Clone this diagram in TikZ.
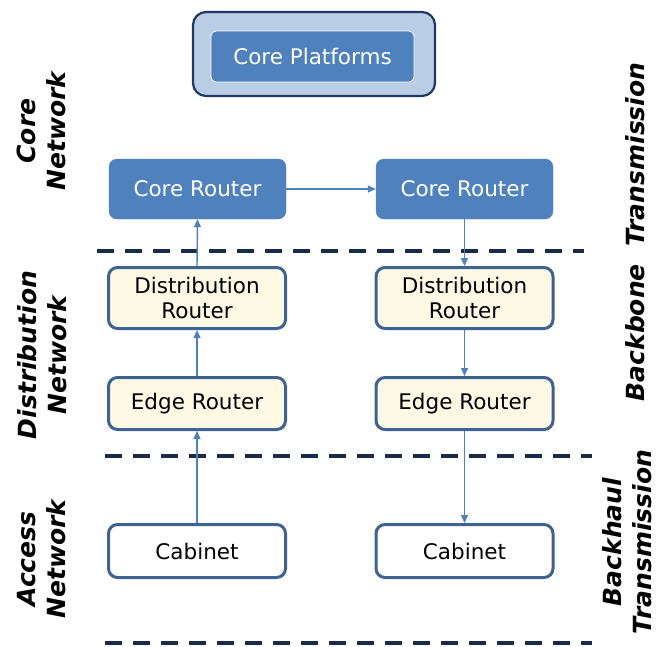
\documentclass[tikz,border=0pt]{standalone}
\usepackage{fontspec}
\setmainfont{DejaVu Sans}
\usetikzlibrary{arrows.meta}
\definecolor{corefill}{HTML}{4F81BD}
\definecolor{platfill}{HTML}{B9CDE5}
\definecolor{navy}{HTML}{1F3864}
\definecolor{boxline}{HTML}{3F6391}
\definecolor{cream}{HTML}{FEF9E4}
\definecolor{dashcol}{HTML}{1A2B47}
\tikzset{
  txt/.style={font=\fontsize{21.5}{25.8}\selectfont, align=center, inner sep=0pt},
  corebox/.style={txt, fill=corefill, draw=corefill, text=white, rounded corners=8pt,
    minimum width=177pt, minimum height=60pt},
  routerbox/.style={txt, fill=cream, draw=boxline, line width=3pt, rounded corners=9pt,
    minimum width=177pt},
  cabbox/.style={routerbox, fill=white},
  link/.style={draw=corefill, line width=1.4pt, -{Triangle[length=8pt,width=7pt]}},
  layer/.style={dashcol, line width=4pt, dash pattern=on 17pt off 11pt},
  sidelabel/.style={font=\fontsize{25}{30}\selectfont\bfseries\itshape, align=center,
    rotate=90, inner sep=0pt}
}
\begin{document}
\begin{tikzpicture}[x=1pt, y=-1pt]
\useasboundingbox (0,0) rectangle (659,646);

% core platforms
\node[draw=navy, line width=2.2pt, fill=platfill, rounded corners=13pt,
  minimum width=242pt, minimum height=84pt] (plat) at (314,54) {};
\node[txt, fill=corefill, draw=white, line width=0.8pt, rounded corners=5pt, text=white,
  minimum width=203pt, minimum height=51pt] (platin) at (312.5,56.5) {Core Platforms};

% routers
\node[corebox] (cr1) at (197.5,189) {Core Router};
\node[corebox] (cr2) at (464.5,189) {Core Router};
\node[routerbox, minimum height=61pt] (dr1) at (197,298) {Distribution\\Router};
\node[routerbox, minimum height=61pt] (dr2) at (464.5,298) {Distribution\\Router};
\node[routerbox, minimum height=52pt] (er1) at (197,403.5) {Edge Router};
\node[routerbox, minimum height=52pt] (er2) at (464.5,403.5) {Edge Router};
\node[cabbox, minimum height=53pt] (cab1) at (197,551) {Cabinet};
\node[cabbox, minimum height=53pt] (cab2) at (464.5,551) {Cabinet};

% layer boundaries
\coordinate (l1a) at (97,251);  \coordinate (l1b) at (584,251);
\coordinate (l2a) at (105,456); \coordinate (l2b) at (592,456);
\coordinate (l3a) at (105,643); \coordinate (l3b) at (592,643);
\draw[layer] (l1a) -- (l1b);
\draw[layer] (l2a) -- (l2b);
\draw[layer] (l3a) -- (l3b);

% traffic path
\draw[link] (cab1.north) -- (er1.south);
\draw[link] (er1.north) -- (dr1.south);
\draw[link] (dr1.north) -- (cr1.south);
\draw[link] (cr1.east) -- (cr2.west);
\draw[link] (cr2.south) -- (dr2.north);
\draw[link] (dr2.south) -- (er2.north);
\draw[link] (er2.south) -- (cab2.north);

% layer names
\node[sidelabel] (corenet) at (41,131) {Core\\Network};
\node[sidelabel] (distnet) at (42,355) {Distribution\\Network};
\node[sidelabel] (accnet) at (42,559) {Access\\Network};
\node[sidelabel] (backbone) at (635,232) {Backbone\ \ Transmission};
\node[sidelabel] (backhaul) at (627,542) {Backhaul\\Transmission};
\end{tikzpicture}
\end{document}
